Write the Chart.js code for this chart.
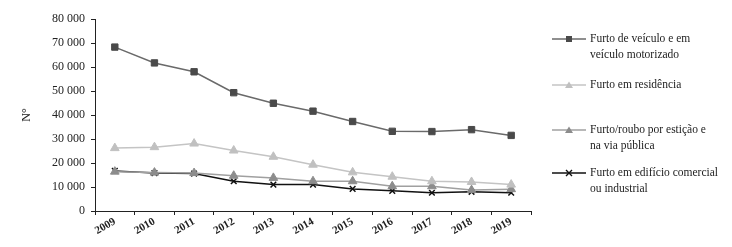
<!DOCTYPE html>
<html>
<head>
<meta charset="utf-8">
<script src="https://cdn.jsdelivr.net/npm/chart.js@4"></script>
<style>
  html, body { margin: 0; padding: 0; background: #fff; }
  #wrap { position: relative; width: 732px; height: 247px; }
  #legend { position: absolute; left: 551px; top: 0; font-family: "Liberation Serif", serif; font-size: 11.5px; color: #222; }
  .item { position: absolute; left: 0; width: 180px; }
  .item canvas { position: absolute; left: 0; top: -4px; }
  .item span { position: absolute; left: 39px; top: -8px; line-height: 15.5px; white-space: nowrap; }
</style>
</head>
<body>
<div id="wrap">
  <canvas id="chart" width="732" height="247"></canvas>
  <div id="legend"></div>
</div>
<script>
const years = ['2009', '2010', '2011', '2012', '2013', '2014', '2015', '2016', '2017', '2018', '2019'];
const veiculo = [68300, 61700, 58000, 49300, 44900, 41600, 37300, 33200, 33100, 33900, 31500];
const residencia = [26200, 26600, 28100, 25200, 22600, 19300, 16100, 14300, 12400, 12100, 11000];
const esticao = [16400, 16000, 15800, 14700, 13800, 12400, 12400, 10300, 10300, 8700, 9100];
const edificio = [16700, 15800, 15600, 12400, 11000, 11000, 9200, 8400, 7600, 8000, 7600];
const yTicks = [0, 10000, 20000, 30000, 40000, 50000, 60000, 70000, 80000];

const series = [
  { label: ['Furto de veículo e em', 'veículo motorizado'], data: veiculo, line: '#6a6a6a', mark: '#4a4a4a', style: 'rect', r: 4.5, top: 39 },
  { label: ['Furto em residência'], data: residencia, line: '#c4c4c4', mark: '#c0c0c0', style: 'triangle', r: 5, top: 85 },
  { label: ['Furto/roubo por estição e', 'na via pública'], data: esticao, line: '#a0a0a0', mark: '#8c8c8c', style: 'triangle', r: 5, top: 130 },
  { label: ['Furto em edifício comercial', 'ou industrial'], data: edificio, line: '#111111', mark: '#111111', style: 'crossRot', r: 4, top: 173 }
];

const serif = '"Liberation Serif", serif';

new Chart(document.getElementById('chart'), {
  type: 'line',
  data: {
    labels: years,
    datasets: series.map(s => ({
      label: s.label.join(' '),
      data: s.data,
      borderColor: s.line,
      borderWidth: 1.5,
      pointStyle: s.style,
      pointRadius: s.r,
      pointBackgroundColor: s.mark,
      pointBorderColor: s.mark,
      pointBorderWidth: s.style === 'crossRot' ? 1.5 : 1,
      tension: 0
    }))
  },
  options: {
    responsive: false,
    animation: false,
    layout: { padding: { top: 19, right: 201, left: 20, bottom: 0 } },
    plugins: { legend: { display: false }, tooltip: { enabled: false } },
    scales: {
      x: {
        offset: true,
        grid: { display: true, drawOnChartArea: false, offset: true, tickLength: 4, color: '#222' },
        border: { color: '#222', width: 1 },
        ticks: { color: '#222', font: { family: serif, size: 11, weight: 'bold' }, minRotation: 30, maxRotation: 30, padding: 0 },
        afterFit: s => { s.height = 36; }
      },
      y: {
        min: 0,
        max: 80000,
        afterBuildTicks: s => { s.ticks = yTicks.map(v => ({ value: v })); },
        grid: { display: true, drawOnChartArea: false, tickLength: 4, color: '#222' },
        border: { color: '#222', width: 1 },
        ticks: {
          color: '#222',
          font: { family: serif, size: 12 },
          padding: 6,
          callback: v => String(v).replace(/\B(?=(\d{3})+(?!\d))/g, ' ')
        },
        title: { display: true, text: 'N°', color: '#222', font: { family: serif, size: 12 }, padding: { top: 0, bottom: 0 } },
        afterFit: s => { s.width = 75; }
      }
    }
  }
});

// legend at the right
const legend = document.getElementById('legend');
series.forEach(s => {
  const item = document.createElement('div');
  item.className = 'item';
  item.style.top = s.top + 'px';
  const c = document.createElement('canvas');
  c.width = 36; c.height = 8;
  const g = c.getContext('2d');
  g.strokeStyle = s.line; g.lineWidth = 1.3;
  g.beginPath(); g.moveTo(1, 4); g.lineTo(35, 4); g.stroke();
  g.fillStyle = s.mark; g.strokeStyle = s.mark;
  if (s.style === 'rect') { g.fillRect(15, 1, 6, 6); }
  else if (s.style === 'triangle') { g.beginPath(); g.moveTo(18, 0.5); g.lineTo(22, 7); g.lineTo(14, 7); g.closePath(); g.fill(); }
  else { g.lineWidth = 1.4; g.beginPath(); g.moveTo(15, 1); g.lineTo(21, 7); g.moveTo(21, 1); g.lineTo(15, 7); g.stroke(); }
  item.appendChild(c);
  const t = document.createElement('span');
  t.innerHTML = s.label.join('<br>');
  item.appendChild(t);
  legend.appendChild(item);
});
</script>
</body>
</html>
